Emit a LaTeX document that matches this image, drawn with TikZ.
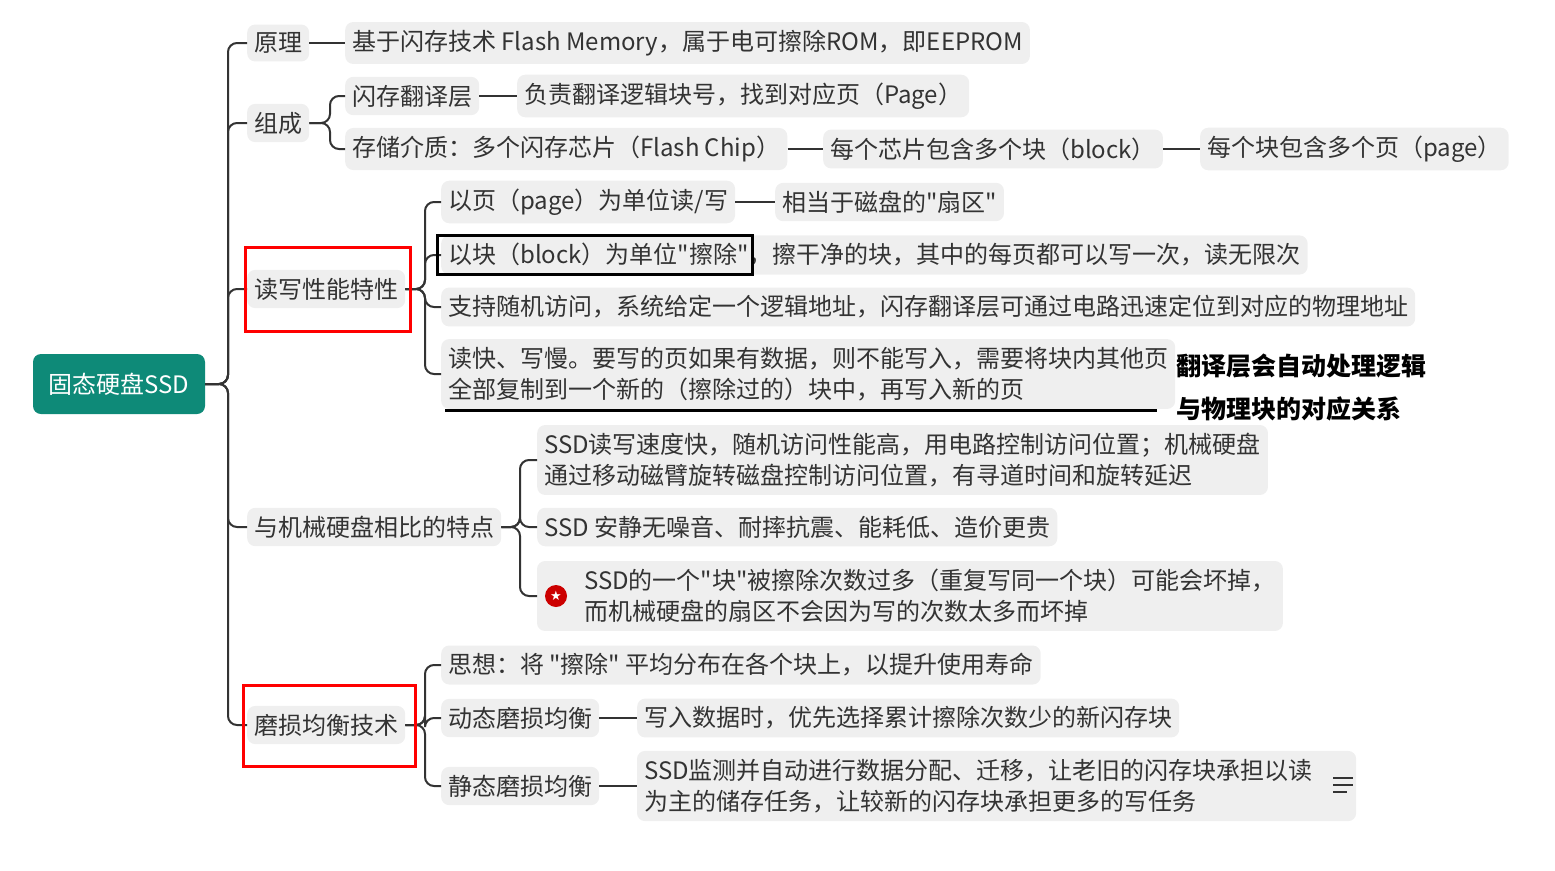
\documentclass[tikz,border=0pt]{standalone}
\usepackage{fontspec}
\setmainfont{Noto Sans CJK SC}[Ligatures=TeXOff]
\newfontfamily\symf{DejaVu Sans}
\usetikzlibrary{backgrounds}
\definecolor{boxg}{HTML}{EFEFEF}
\definecolor{txt}{HTML}{333333}
\definecolor{teal}{HTML}{0E8A78}
\begin{document}
\begin{tikzpicture}[x=1pt,y=-1pt,
  box/.style={fill=boxg,rounded corners=8pt,anchor=west,inner xsep=7pt,inner ysep=8pt,text=txt,font=\fontsize{24}{31}\selectfont,align=left},
  conn/.style={draw=txt,line width=2pt,rounded corners=9pt},
  hilite/.style={line width=3pt}]
\useasboundingbox (0,0) rectangle (1555,870);
\node[fill=teal,rounded corners=8pt,text=white,font=\fontsize{24}{28}\selectfont,minimum width=172pt,minimum height=60pt] (root) at (119,384) {固态硬盘SSD};
\coordinate (T) at (228,0);
\coordinate (B1) at (330,0);
\coordinate (B2) at (425,0);
\coordinate (B3) at (520,0);
% level 1
\node[box] (yl) at (247,43) {原理};
\node[box] (zc) at (247,123) {组成};
\node[box] (dx) at (247,289) {读写性能特性};
\node[box] (jx) at (247,527) {与机械硬盘相比的特点};
\node[box] (ms) at (247,725) {磨损均衡技术};
\foreach \n in {yl,zc,dx,jx,ms} \draw[conn] (root.east) -- (root.east -| T) |- (\n.west);
% 原理
\node[box] (yl1) at (345,43) {基于闪存技术 Flash Memory，属于电可擦除ROM，即EEPROM};
\draw[conn] (yl.east) -- (yl1.west);
% 组成
\node[box] (zc1) at (345,96) {闪存翻译层};
\node[box] (zc1a) at (517,96) {负责翻译逻辑块号，找到对应页（Page）};
\node[box] (zc2) at (345,149) {存储介质：多个闪存芯片（Flash Chip）};
\node[box] (zc2a) at (823,149) {每个芯片包含多个块（block）};
\node[box] (zc2b) at (1200,149) {每个块包含多个页（page）};
\foreach \n in {zc1,zc2} \draw[conn] (zc.east) -- (zc.east -| B1) |- (\n.west);
\draw[conn] (zc1.east) -- (zc1a.west);
\draw[conn] (zc2.east) -- (zc2a.west);
\draw[conn] (zc2a.east) -- (zc2b.west);
% 读写
\node[box] (dx1) at (441,202) {以页（page）为单位读/写};
\node[box] (dx1a) at (775,202) {相当于磁盘的"扇区"};
\node[box] (dx2) at (441,255) {以块（block）为单位"擦除"，擦干净的块，其中的每页都可以写一次，读无限次};
\node[box] (dx3) at (441,307) {支持随机访问，系统给定一个逻辑地址，闪存翻译层可通过电路迅速定位到对应的物理地址};
\node[box] (dx4) at (441,374) {读快、写慢。要写的页如果有数据，则不能写入，需要将块内其他页\\全部复制到一个新的（擦除过的）块中，再写入新的页};
\foreach \n in {dx1,dx2,dx3,dx4} \draw[conn] (dx.east) -- (dx.east -| B2) |- (\n.west);
\draw[conn] (dx1.east) -- (dx1a.west);
% 与机械
\node[box] (jx1) at (537,460) {SSD读写速度快，随机访问性能高，用电路控制访问位置；机械硬盘\\通过移动磁臂旋转磁盘控制访问位置，有寻道时间和旋转延迟};
\node[box] (jx2) at (537,527) {SSD 安静无噪音、耐摔抗震、能耗低、造价更贵};
\node[box,fill=none] (jx3) at (577,596) {SSD的一个"块"被擦除次数过多（重复写同一个块）可能会坏掉，\\而机械硬盘的扇区不会因为写的次数太多而坏掉};
\begin{scope}[on background layer]
\fill[boxg,rounded corners=8pt] ([xshift=-40pt]jx3.south west) rectangle (jx3.north east);
\end{scope}
\fill[red!80!black] (556,596) circle (11pt);
\node[text=white,font=\symf\fontsize{13}{13}\selectfont] (star) at (556,596) {★};
\foreach \n in {jx1,jx2} \draw[conn] (jx.east) -- (jx.east -| B3) |- (\n.west);
\draw[conn] (jx.east) -- (jx.east -| B3) |- ([xshift=-40pt]jx3.west);
% 磨损
\node[box] (ms1) at (441,665) {思想：将 "擦除" 平均分布在各个块上，以提升使用寿命};
\node[box] (ms2) at (441,718) {动态磨损均衡};
\node[box] (ms2a) at (637,718) {写入数据时，优先选择累计擦除次数少的新闪存块};
\node[box] (ms3) at (441,786) {静态磨损均衡};
\node[box,fill=none] (ms3a) at (637,786) {SSD监测并自动进行数据分配、迁移，让老旧的闪存块承担以读\\为主的储存任务，让较新的闪存块承担更多的写任务};
\begin{scope}[on background layer]
\fill[boxg,rounded corners=8pt] (ms3a.south west) rectangle ([xshift=36pt]ms3a.north east);
\end{scope}
\foreach \yy/\ww in {778/20,785/20,792/14} \draw[txt,line width=1.5pt] (1333,\yy) -- ++(\ww,0);
\foreach \n in {ms1,ms2,ms3} \draw[conn] (ms.east) -- (ms.east -| B2) |- (\n.west);
\draw[conn] (ms2.east) -- (ms2a.west);
\draw[conn] (ms3.east) -- (ms3a.west);
% marks
\draw[red,hilite] (245,247) rectangle (410,331);
\draw[red,hilite] (243,685) rectangle (415,766);
\draw[black,hilite] (437,235) rectangle (752,274);
\draw[black,hilite] (445,410) -- (1157,410);
\node[anchor=west,font=\bfseries\fontsize{25}{30}\selectfont,inner sep=0] (an1) at (1176,366) {翻译层会自动处理逻辑};
\node[anchor=west,font=\bfseries\fontsize{25}{30}\selectfont,inner sep=0] (an2) at (1176,409) {与物理块的对应关系};
\end{tikzpicture}
\end{document}
